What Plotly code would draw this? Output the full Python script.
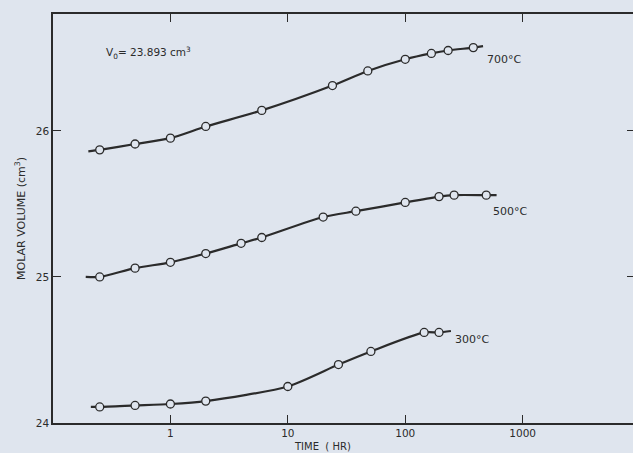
import math
import plotly.graph_objects as go

# ---- data ----
t700 = [0.25, 0.5, 1, 2, 6, 24, 48, 100, 167, 232, 380]
v700 = [25.87, 25.91, 25.95, 26.03, 26.14, 26.31, 26.41, 26.49, 26.53, 26.55, 26.57]
c700_t = [0.2] + t700 + [460]
c700_v = [25.86] + v700 + [26.58]

t500 = [0.25, 0.5, 1, 2, 4, 6, 20, 38, 100, 194, 261, 490]
v500 = [25.0, 25.06, 25.10, 25.16, 25.23, 25.27, 25.41, 25.45, 25.51, 25.55, 25.56, 25.56]
c500_t = [0.19] + t500 + [600]
c500_v = [25.0] + v500 + [25.56]

t300 = [0.25, 0.5, 1, 2, 10, 27, 51, 145, 194]
v300 = [24.11, 24.12, 24.13, 24.15, 24.25, 24.40, 24.49, 24.62, 24.62]
c300_t = [0.21] + t300 + [245]
c300_v = [24.11] + v300 + [24.63]

x_ticks = [1, 10, 100, 1000]
x_ticktext = ["1", "10", "100", "1000"]
y_ticks = [24, 25, 26]

labels = ["700°C", "500°C", "300°C"]
label_t = [700, 780, 372]
label_v = [26.49, 25.445, 24.575]

BG = "#dfe5ee"
INK = "#2b2b2b"
FONT = "DejaVu Sans"

fig = go.Figure()
for ct, cv, t, v in [(c700_t, c700_v, t700, v700),
                     (c500_t, c500_v, t500, v500),
                     (c300_t, c300_v, t300, v300)]:
    fig.add_trace(go.Scatter(x=ct, y=cv, mode="lines",
                             line=dict(color=INK, width=2.2, shape="spline", smoothing=0.7),
                             showlegend=False, hoverinfo="skip"))
    fig.add_trace(go.Scatter(x=t, y=v, mode="markers",
                             marker=dict(symbol="circle", size=8, color=BG,
                                         line=dict(color=INK, width=1.3)),
                             showlegend=False))

# dummy trace for right-side ticks
fig.add_trace(go.Scatter(x=[None], y=[None], yaxis="y2", showlegend=False))

for txt, t, v in zip(labels, label_t, label_v):
    fig.add_annotation(x=math.log10(t), y=v, text=txt, showarrow=False,
                       font=dict(family=FONT, size=11, color=INK))

fig.add_annotation(x=math.log10(0.65), y=26.535,
                   text="V<sub>0</sub>= 23.893 cm<sup>3</sup>", showarrow=False,
                   font=dict(family=FONT, size=10.5, color=INK))

fig.add_annotation(x=0.465, y=-0.058, xref="paper", yref="paper", yanchor="middle",
                   text="TIME  ( HR)", showarrow=False,
                   font=dict(family=FONT, size=10, color=INK))

fig.update_layout(
    width=633, height=453,
    margin=dict(l=53, r=0, t=14, b=30),
    paper_bgcolor=BG, plot_bgcolor=BG,
    font=dict(family=FONT, size=10, color=INK),
    xaxis=dict(type="log", range=[-1, 3.94], tickvals=x_ticks, ticktext=x_ticktext,
               ticks="inside", ticklen=8, tickwidth=1.3, tickcolor=INK,
               showline=True, linecolor=INK, linewidth=1.5, mirror="ticks",
               showgrid=False, zeroline=False,
               tickfont=dict(family=FONT, size=10.5, color=INK)),
    yaxis=dict(range=[24, 26.8], tickvals=y_ticks,
               ticks="inside", ticklen=8, tickwidth=1.3, tickcolor=INK,
               showline=True, linecolor=INK, linewidth=1.5,
               showgrid=False, zeroline=False,
               title=dict(text="MOLAR VOLUME (cm<sup>3</sup>)", standoff=8,
                          font=dict(family=FONT, size=11, color=INK)),
               tickfont=dict(family=FONT, size=10.5, color=INK)),
    yaxis2=dict(range=[24, 26.8], overlaying="y", side="right", tickvals=y_ticks,
                ticks="inside", ticklen=6, tickwidth=1.3, tickcolor=INK,
                showticklabels=False, showline=False, linecolor=BG, linewidth=0,
                showgrid=False, zeroline=False),
)

fig.write_html("out.html", config={"displayModeBar": False},
               post_script="document.body.style.margin='0';document.body.style.overflow='hidden';")
